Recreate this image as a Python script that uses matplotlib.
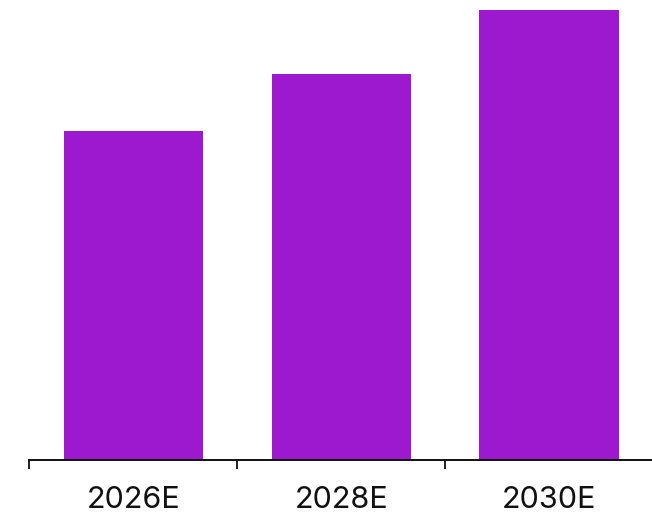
import matplotlib.pyplot as plt

years = ["2026E", "2028E", "2030E"]
values = [32.9, 38.65, 45.05]
bar_color = "#9c19d0"

fig = plt.figure(figsize=(6.52, 5.14), dpi=100)
ax = fig.add_axes([29.5 / 652, 54 / 514, 623.5 / 652, 460 / 514])

x = range(len(years))
ax.bar(x, values, width=0.67, color=bar_color)

ax.set_xlim(-0.5, 2.5)
ax.set_ylim(0, 46)

# boundary ticks between categories, labels centred under each bar
ax.set_xticks([-0.5, 0.5, 1.5])
ax.set_xticklabels([])
ax.tick_params(axis="x", which="major", length=6.5, width=1.3, color="#111111")
ax.set_xticks(list(x), minor=True)
ax.set_xticklabels(years, minor=True, fontsize=22, family=["Inter", "DejaVu Sans"])
ax.tick_params(axis="x", which="minor", length=0, pad=18.5, labelcolor="#111111")

ax.set_yticks([])
for side in ["top", "right", "left"]:
    ax.spines[side].set_visible(False)
ax.spines["bottom"].set_linewidth(1.4)
ax.spines["bottom"].set_color("#111111")

fig.savefig("out.png", dpi=100)
